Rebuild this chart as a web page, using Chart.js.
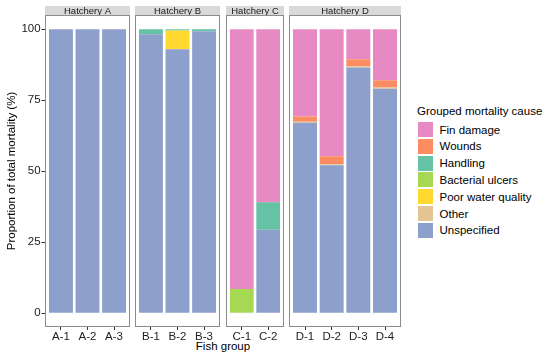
<!DOCTYPE html>
<html>
<head>
<meta charset="utf-8">
<script src="https://cdn.jsdelivr.net/npm/chart.js@4.4.0/dist/chart.umd.min.js"></script>
<style>
  body { margin: 0; background: #fff; }
  #wrap { position: relative; width: 550px; height: 357px; overflow: hidden; font-family: "Liberation Sans", Arial, sans-serif; }
  #wrap canvas { position: absolute; top: 0; }
  .lg { position: absolute; font-size: 11.5px; line-height: 14px; color: #000; white-space: nowrap; }
  .sw { position: absolute; width: 15px; height: 15px; }
  #xtitle { position: absolute; left: 0; width: 446px; top: 339px; text-align: center; font-size: 11.5px; line-height: 14px; color: #000; }
</style>
</head>
<body>
<div id="wrap"><div id="xtitle">Fish group</div></div>
<script>
// ================== DATA ==================
const hatcheries = ["Hatchery A", "Hatchery B", "Hatchery C", "Hatchery D"];
const groupsPerHatchery = [3, 3, 2, 4];
const groups = ["A-1", "A-2", "A-3", "B-1", "B-2", "B-3", "C-1", "C-2", "D-1", "D-2", "D-3", "D-4"];

const finDamage   = [0, 0, 0, 0, 0, 0, 91.6, 61, 30.8, 44.8, 10.6, 18];
const wounds      = [0, 0, 0, 0, 0, 0, 0, 0, 1.8, 2.8, 2.5, 2.6];
const handling    = [0, 0, 0, 1.8, 0.5, 0.7, 0, 9.7, 0, 0, 0, 0];
const bacterial   = [0, 0, 0, 0, 0, 0, 8.4, 0, 0, 0, 0, 0];
const poorWater   = [0, 0, 0, 0, 6.6, 0, 0, 0, 0, 0, 0, 0];
const other       = [0, 0, 0, 0, 0, 0, 0, 0, 0.4, 0.4, 0.4, 0.4];
const unspecified = [100, 100, 100, 98.2, 92.9, 99.3, 0, 29.3, 67, 52, 86.5, 79];

const causes = ["Fin damage", "Wounds", "Handling", "Bacterial ulcers", "Poor water quality", "Other", "Unspecified"];
const causeValues = [finDamage, wounds, handling, bacterial, poorWater, other, unspecified];
const causeColors = ["#E78AC3", "#FC8D62", "#66C2A5", "#A6D854", "#FFD92F", "#E5C494", "#8DA0CB"];
const yTicks = [0, 25, 50, 75, 100];

// ================== LAYOUT ==================
const panelLeft = [45, 135, 226, 289];
const panelWidth = [85, 85, 58, 112];
const FONT = '"Liberation Sans", Arial, sans-serif';
const wrap = document.getElementById('wrap');

// strip, panel border and y tick marks
const facetPlugin = {
  id: 'facet',
  afterDraw(chart, args, opts) {
    const { ctx, chartArea: a } = chart;
    const x0 = opts.boxLeft, x1 = opts.boxRight;
    ctx.save();
    ctx.fillStyle = '#d9d9d9';
    ctx.fillRect(x0, 6, x1 - x0, 9);
    ctx.fillStyle = '#1a1a1a';
    ctx.font = '9.5px ' + FONT;
    ctx.textAlign = 'center';
    ctx.textBaseline = 'middle';
    ctx.fillText(opts.label, (x0 + x1) / 2, 11);
    ctx.strokeStyle = '#8c8c8c';
    ctx.lineWidth = 1;
    ctx.strokeRect(x0 + 0.5, a.top + 0.5, x1 - x0 - 1, a.bottom - a.top - 1);
    if (opts.yTicks) {
      const ys = chart.scales.y;
      ctx.strokeStyle = '#333';
      yTicks.forEach(v => {
        const y = Math.round(ys.getPixelForValue(v)) + 0.5;
        ctx.beginPath();
        ctx.moveTo(x0 - 3.5, y);
        ctx.lineTo(x0, y);
        ctx.stroke();
      });
    }
    ctx.restore();
  }
};

let start = 0;
hatcheries.forEach((name, p) => {
  const n = groupsPerHatchery[p];
  const band = panelWidth[p] / (n + 0.2);
  const pad = band * 0.1;
  const first = p === 0;
  const canvasLeft = first ? 0 : panelLeft[p];
  const canvasWidth = first ? panelLeft[p] + panelWidth[p] : panelWidth[p];
  const boxLeft = first ? panelLeft[p] : 0;

  const cv = document.createElement('canvas');
  cv.width = canvasWidth;
  cv.height = 357;
  cv.style.left = canvasLeft + 'px';
  wrap.appendChild(cv);

  const labels = groups.slice(start, start + n);
  const datasets = [];
  for (let i = causes.length - 1; i >= 0; i--) {
    datasets.push({
      label: causes[i],
      data: causeValues[i].slice(start, start + n),
      backgroundColor: causeColors[i],
      borderWidth: 0,
      barPercentage: 0.9,
      categoryPercentage: 1
    });
  }
  start += n;

  new Chart(cv.getContext('2d'), {
    type: 'bar',
    data: { labels, datasets },
    plugins: [facetPlugin],
    options: {
      responsive: false,
      animation: false,
      devicePixelRatio: 1,
      layout: { padding: { top: 15, left: first ? 0 : pad, right: pad, bottom: 0 } },
      plugins: {
        legend: { display: false },
        tooltip: { enabled: false },
        facet: { label: name, boxLeft, boxRight: boxLeft + panelWidth[p], yTicks: first }
      },
      scales: {
        x: {
          stacked: true,
          grid: { display: true, drawOnChartArea: false, drawTicks: true, tickLength: 3, offset: false, color: '#333' },
          border: { display: false },
          ticks: { color: '#222', font: { family: FONT, size: 11.5 }, padding: 0, maxRotation: 0, autoSkip: false },
          afterFit(scale) { scale.height = 30; }
        },
        y: {
          display: first,
          stacked: true,
          min: -5,
          max: 105,
          grid: { display: false, drawTicks: false },
          border: { display: false },
          ticks: { color: '#222', font: { family: FONT, size: 11.5 }, padding: 7 },
          afterBuildTicks(scale) { scale.ticks = yTicks.map(v => ({ value: v })); },
          afterFit(scale) { scale.width = first ? panelLeft[0] + pad : 0; },
          title: {
            display: true,
            text: 'Proportion of total mortality (%)',
            color: '#000',
            font: { family: FONT, size: 11.5 },
            padding: { top: 5, bottom: 0 }
          }
        }
      }
    }
  });
});

// ================== LEGEND ==================
const lgTitle = document.createElement('div');
lgTitle.className = 'lg';
lgTitle.style.left = '417px';
lgTitle.style.top = '104px';
lgTitle.innerText = 'Grouped mortality cause';
wrap.appendChild(lgTitle);

causes.forEach((c, i) => {
  const top = 122 + i * 16.8;
  const sw = document.createElement('div');
  sw.className = 'sw';
  sw.style.left = '417.5px';
  sw.style.top = top + 'px';
  sw.style.background = causeColors[i];
  wrap.appendChild(sw);
  const t = document.createElement('div');
  t.className = 'lg';
  t.style.left = '439.5px';
  t.style.top = (top + 0.5) + 'px';
  t.innerText = c;
  wrap.appendChild(t);
});
</script>
</body>
</html>
